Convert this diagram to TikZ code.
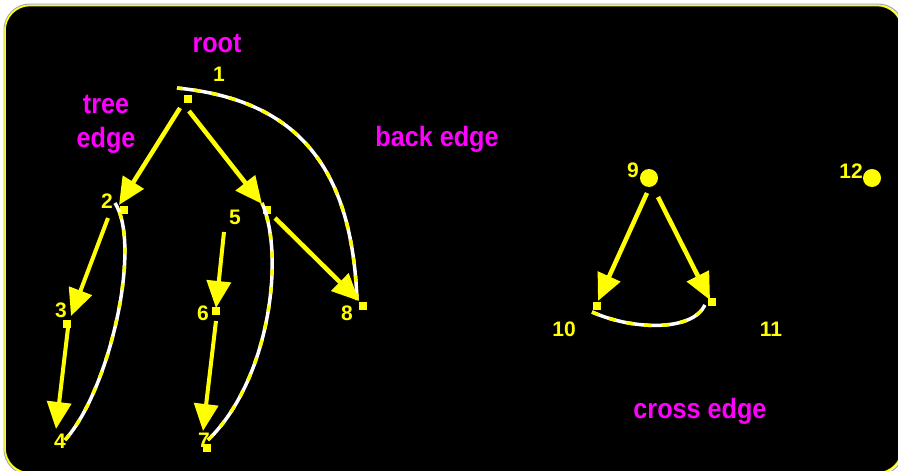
\documentclass[tikz,border=0pt]{standalone}
\usepackage{fontspec}
\setmainfont{Liberation Sans}
\usetikzlibrary{arrows.meta}
\definecolor{yel}{RGB}{255,255,0}
\definecolor{mag}{RGB}{255,0,255}
\newcommand\squeezed[1]{\scalebox{0.9}[1]{#1}}
\begin{document}
\begin{tikzpicture}[x=1pt,y=-1pt,
  num/.style={text=yel,font=\fontsize{21}{23}\selectfont\bfseries,inner sep=0pt},
  lab/.style={text=mag,font=\fontsize{28}{34}\selectfont\bfseries,inner sep=0pt,align=center},
  sqv/.style={fill=yel,rectangle,minimum size=8pt,inner sep=0pt},
  dotv/.style={fill=yel,circle,minimum size=18pt,inner sep=0pt},
  treearrow/.style={draw=yel,line width=4.5pt,-{Triangle[length=27pt,width=24pt]}},
  thinarrow/.style={treearrow,line width=4pt},
  backbase/.style={draw=white,line width=3.5pt},
  backdash/.style={draw=yel,line width=3.5pt,dash pattern=on 7pt off 11pt}]
\useasboundingbox (0,0) rectangle (898,471);
\fill[white] (0,0) rectangle (898,471);
\draw[black!35,line width=1pt,rounded corners=26pt] (4,4) rectangle (904,475);
\draw[yel,fill=black,line width=1.5pt,rounded corners=25pt] (5,5.5) rectangle (902,473);

% labels
\node[lab] (root) at (217,44) {\squeezed{root}};
\node[lab] (treeedge) at (106,124) {\squeezed{tree}\\\squeezed{edge}};
\node[lab] (backedge) at (437,139) {\squeezed{back edge}};
\node[lab] (crossedge) at (700,411) {\squeezed{cross edge}};

% vertex numbers
\node[num] (l1) at (219,74) {1};
\node[num] (l2) at (107,201) {2};
\node[num] (l3) at (61,310) {3};
\node[num] (l4) at (60,441) {4};
\node[num] (l5) at (235,217) {5};
\node[num] (l6) at (203,313) {6};
\node[num] (l7) at (204,440) {7};
\node[num] (l8) at (347,313) {8};
\node[num] (l9) at (633,170) {9};
\node[num] (l10) at (564,329) {10};
\node[num] (l11) at (771,329) {11};
\node[num] (l12) at (851,171) {12};

% vertex markers
\node[sqv] (s1) at (188,99) {};
\node[sqv] (s2) at (124,210) {};
\node[sqv] (s3) at (67,324) {};
\node[sqv] (s5) at (267,210) {};
\node[sqv] (s6) at (216,311) {};
\node[sqv] (s7) at (207,448) {};
\node[sqv] (s8) at (363,306) {};
\node[sqv] (s10) at (597,306) {};
\node[sqv] (s11) at (712,302) {};
\node[dotv] (c9) at (649,178) {};
\node[dotv] (c12) at (872,178) {};

% connector ends
\coordinate (o1a) at (180,108);
\coordinate (o1b) at (189,111);
\coordinate (i2) at (119,205);
\coordinate (i5) at (262,204);
\coordinate (o2) at (108,218);
\coordinate (i3) at (71,316);
\coordinate (o3) at (68,328);
\coordinate (i4) at (56,429);
\coordinate (o5a) at (224,232);
\coordinate (i6) at (216,308);
\coordinate (o6) at (216,321);
\coordinate (i7) at (203,431);
\coordinate (o5b) at (275,218);
\coordinate (i8) at (359,301);
\coordinate (o9a) at (647,193);
\coordinate (o9b) at (658,197);
\coordinate (i10) at (598,301);
\coordinate (i11) at (710,300);
\coordinate (e4) at (65,440);
\coordinate (e2) at (115,203);
\coordinate (e7) at (208,440);
\coordinate (e5) at (262,203);
\coordinate (e8) at (357,300);
\coordinate (e1) at (177,88);
\coordinate (e10) at (592,312);
\coordinate (e11) at (705,305);

% back and cross edges
\foreach \sty in {backbase,backdash}{
  \draw[\sty] (e8) .. controls (352,170) and (300,100) .. (e1);
  \draw[\sty] (e4) .. controls (110,390) and (142,245) .. (e2);
  \draw[\sty] (e7) .. controls (270,380) and (285,255) .. (e5);
  \draw[\sty] (e10) .. controls (632,330) and (692,332) .. (e11);
}

% tree edges
\draw[treearrow] (o1a) -- (i2);
\draw[treearrow] (o1b) -- (i5);
\draw[thinarrow] (o2) -- (i3);
\draw[thinarrow] (o3) -- (i4);
\draw[thinarrow] (o5a) -- (i6);
\draw[thinarrow] (o6) -- (i7);
\draw[treearrow] (o5b) -- (i8);
\draw[treearrow] (o9a) -- (i10);
\draw[treearrow] (o9b) -- (i11);
\end{tikzpicture}
\end{document}
